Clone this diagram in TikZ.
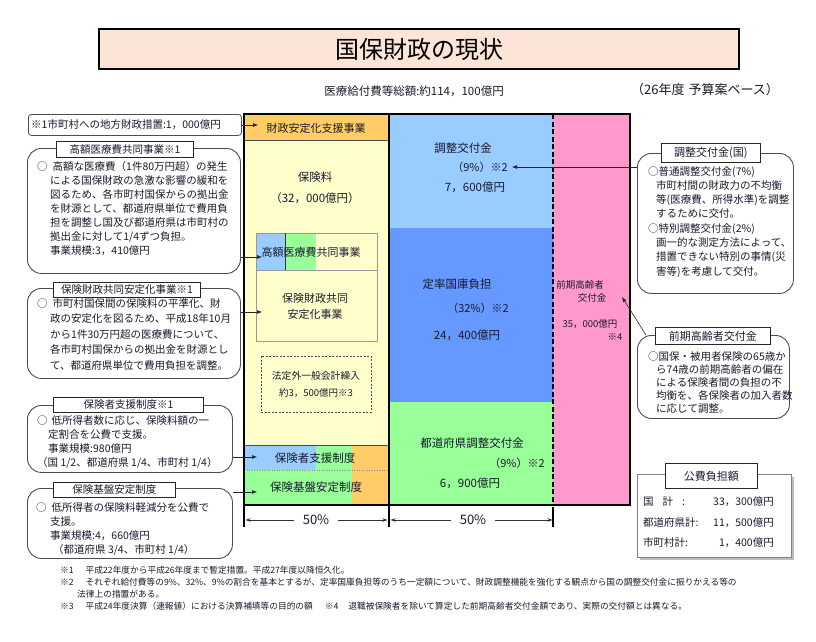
\documentclass[tikz,border=0pt]{standalone}
\usepackage{fontspec}
\setmainfont{Noto Sans CJK JP}
\usetikzlibrary{arrows.meta}
\definecolor{peach}{HTML}{FCE4D6}
\definecolor{corange}{HTML}{FFCC66}
\definecolor{ccream}{HTML}{FFFFCC}
\definecolor{clblue}{HTML}{99CCFF}
\definecolor{cblue}{HTML}{6699FF}
\definecolor{cgreen}{HTML}{99FF99}
\definecolor{cpink}{HTML}{FF99CC}
\definecolor{txt}{HTML}{1A1A2E}
\definecolor{frame}{HTML}{4D4D4D}
\newcommand{\fsz}[2]{\fontsize{#1}{#2}\selectfont}
\begin{document}
\begin{tikzpicture}[x=1pt,y=-1pt,
  lbl/.style={text=txt, inner sep=0pt, font=\fsz{11}{13}},
  para/.style={text=txt, inner sep=0pt, anchor=north west, align=left},
  roundbox/.style={draw=frame, line width=0.9pt, rounded corners=14pt, fill=white, anchor=north west, inner sep=0pt},
  hdr/.style={draw=black!85, line width=0.9pt, fill=white, inner sep=0pt, anchor=north west, text=txt, font=\fsz{10.5}{13}},
  arr/.style={-{Latex[length=5pt,width=4pt]}, line width=0.6pt, draw=black!85},
  dimarr/.style={-{Stealth[length=5pt,width=3.5pt]}, line width=0.7pt, draw=black!80},
]
\useasboundingbox (0,0) rectangle (816,642);
\fill[white] (0,0) rectangle (816,642);

% ---------- title ----------
\node[draw=black, line width=2.2pt, fill=peach, minimum width=640pt, minimum height=40pt,
      anchor=north west, inner sep=0pt, font=\fsz{24}{26}, text=black] (title) at (98,28) {国保財政の現状};
\node[lbl, font=\fsz{11.5}{13}] (total) at (414,91) {医療給付費等総額:約114，100億円};
\node[lbl, font=\fsz{13}{15}] (base) at (705,90) {（26年度\hspace{4pt}予算案ベース）};

% ---------- chart: left column ----------
\fill[corange] (244,114) rectangle (389,140);
\fill[ccream] (244,140) rectangle (389,445);
\fill[clblue] (256,233) rectangle (285,270);
\fill[cgreen] (285,233) rectangle (316,270);
\draw[black!40, line width=0.8pt] (256,233) rectangle (377,341);
\draw[black!40, line width=0.8pt] (256,270) -- (377,270);
\draw[black!80, line width=0.8pt] (285,233) -- (285,270);
\draw[black!70, line width=0.8pt, dash pattern=on 2pt off 1.5pt] (261,356) rectangle (371,412);
\fill[clblue] (244,445) rectangle (316,470);
\fill[cgreen] (316,445) rectangle (352,470);
\fill[cgreen] (244,470) rectangle (352,504);
\fill[corange] (352,445) rectangle (389,504);
\draw[black!70, line width=0.6pt] (244,140) -- (389,140);
\draw[black!70, line width=0.6pt] (244,445) -- (389,445);
\draw[black!45, line width=0.5pt, dotted] (244,470) -- (389,470);

% ---------- chart: right part ----------
\fill[clblue] (389,114) rectangle (553,228);
\fill[cblue] (389,228) rectangle (553,402);
\fill[cgreen] (389,402) rectangle (553,505);
\fill[cpink] (553,114) rectangle (630,505);
\draw[line width=1.2pt, dash pattern=on 5pt off 2.5pt] (553,114) -- (553,505);

% ---------- chart frame ----------
\draw[line width=2.4pt] (244,114) rectangle (630,505);
\draw[line width=2.4pt] (389,114) -- (389,527);
\draw[line width=2.4pt] (244,505) -- (244,527);
\draw[line width=1.2pt] (553,507) -- (553,527);

% ---------- chart texts ----------
\node[lbl] (zai) at (316,128) {財政安定化支援事業};
\node[lbl, font=\fsz{11.5}{13}] (hoken) at (315,177) {保険料};
\node[lbl, font=\fsz{11.5}{13}] (hokenv) at (315,198) {（32，000億円）};
\node[lbl] (kogaku) at (311,252) {高額医療費共同事業};
\node[lbl, align=center, font=\fsz{11}{16}] (kyodo) at (315,306) {保険財政共同\\安定化事業};
\node[lbl, font=\fsz{9.8}{12}] (hotei) at (316,376) {法定外一般会計繰入};
\node[lbl, font=\fsz{9.5}{12}] (hoteiv) at (316,393) {約3，500億円※3};
\node[lbl, font=\fsz{11.5}{13}] (shien) at (315,458) {保険者支援制度};
\node[lbl, font=\fsz{11.5}{13}] (kiban) at (316,487) {保険基盤安定制度};

\node[lbl, font=\fsz{11.5}{13}] (cho) at (463,148) {調整交付金};
\node[lbl] (chop) at (480,167) {（9\%）※2};
\node[lbl, font=\fsz{11.5}{13}] (chov) at (475,187) {7，600億円};
\node[lbl, font=\fsz{11.5}{13}] (teir) at (457,284) {定率国庫負担};
\node[lbl] (teirp) at (478,308) {（32\%）※2};
\node[lbl, font=\fsz{11.5}{13}] (teirv) at (467,335) {24，400億円};
\node[lbl, font=\fsz{11.5}{13}] (todo) at (472,443) {都道府県調整交付金};
\node[lbl] (todop) at (517,463) {（9\%）※2};
\node[lbl, font=\fsz{11.5}{13}] (todov) at (470,483) {6，900億円};
\node[lbl, font=\fsz{9.5}{12}] (zenki1) at (580,285) {前期高齢者};
\node[lbl, font=\fsz{9.5}{12}] (zenki2) at (592,298) {交付金};
\node[lbl, font=\fsz{9.5}{12}] (zenkiv) at (590,324) {35，000億円};
\node[lbl, font=\fsz{9.5}{12}] (zenkin) at (615,337) {※4};

% ---------- 50% dimensions ----------
\node[lbl, font=\fsz{13}{15}, inner xsep=9pt] (pa) at (316,520) {50\%};
\node[lbl, font=\fsz{13}{15}, inner xsep=9pt] (pb) at (473,520) {50\%};
\coordinate (pa1) at (245.5,520); \coordinate (pa2) at (387.5,520);
\coordinate (pb1) at (390.5,520); \coordinate (pb2) at (552.5,520);
\draw[dimarr] (pa.west) -- (pa1);
\draw[dimarr] (pa.east) -- (pa2);
\draw[dimarr] (pb.west) -- (pb1);
\draw[dimarr] (pb.east) -- (pb2);

% ---------- left notes ----------
\node[draw=frame, line width=0.8pt, rounded corners=3pt, fill=white, anchor=north west,
      minimum width=213pt, minimum height=21pt, inner sep=0pt] (n1) at (28,114) {};
\node[para, anchor=west, font=\fsz{10.5}{13}] (n1t) at (31,125) {※1市町村への地方財政措置:1，000億円};

\node[roundbox, minimum width=213pt, minimum height=125pt] (b1) at (27,148) {};
\node[hdr, minimum width=137pt, minimum height=16pt] (h1) at (56,141) {高額医療費共同事業※1};
\node[para, font=\fsz{10.5}{14}] (b1t) at (37,161) {○\hspace{5pt}高額な医療費（1件80万円超）の発生\\
\hspace*{13pt}による国保財政の急激な影響の緩和を\\
\hspace*{13pt}図るため、各市町村国保からの拠出金\\
\hspace*{13pt}を財源として、都道府県単位で費用負\\
\hspace*{13pt}担を調整し国及び都道府県は市町村の\\
\hspace*{13pt}拠出金に対して1/4ずつ負担。\\
\hspace*{13pt}事業規模:3，410億円};

\node[roundbox, minimum width=213pt, minimum height=90pt] (b2) at (27,288) {};
\node[hdr, minimum width=147pt, minimum height=15pt] (h2) at (53,282) {保険財政共同安定化事業※1};
\node[para, font=\fsz{10.5}{15.5}] (b2t) at (37,298) {○\hspace{5pt}市町村国保間の保険料の平準化、財\\
\hspace*{13pt}政の安定化を図るため、平成18年10月\\
\hspace*{13pt}から1件30万円超の医療費について、\\
\hspace*{13pt}各市町村国保からの拠出金を財源とし\\
\hspace*{13pt}て、都道府県単位で費用負担を調整。};

\node[roundbox, minimum width=205pt, minimum height=67pt] (b3) at (27,405) {};
\node[hdr, minimum width=150pt, minimum height=15pt] (h3) at (53,397) {保険者支援制度※1};
\node[para, font=\fsz{10.5}{14}] (b3t) at (37,415) {○\hspace{4pt}低所得者数に応じ、保険料額の一\\
\hspace*{11pt}定割合を公費で支援。\\
\hspace*{11pt}事業規模:980億円\\
（国 1/2、都道府県 1/4、市町村 1/4）};

\node[roundbox, minimum width=205pt, minimum height=70pt] (b4) at (27,488) {};
\node[hdr, minimum width=122pt, minimum height=15pt] (h4) at (53,482) {保険基盤安定制度};
\node[para, font=\fsz{10.5}{14}] (b4t) at (36,502) {○\hspace{5pt}低所得者の保険料軽減分を公費で\\
\hspace*{14pt}支援。\\
\hspace*{14pt}事業規模:4，660億円\\
\hspace*{17pt}（都道府県 3/4、市町村 1/4）};

% ---------- right notes ----------
\node[roundbox, minimum width=156pt, minimum height=140pt] (rb1) at (637,153) {};
\node[hdr, font=\fsz{11}{13}, minimum width=99pt, minimum height=19pt] (rh1) at (661,143) {調整交付金(国)};
\node[para, font=\fsz{10.5}{14.3}] (rb1t) at (648,166) {○普通調整交付金(7\%)\\
\hspace*{8pt}市町村間の財政力の不均衡\\
\hspace*{8pt}等(医療費、所得水準)を調整\\
\hspace*{8pt}するために交付。\\
○特別調整交付金(2\%)\\
\hspace*{8pt}画一的な測定方法によって、\\
\hspace*{8pt}措置できない特別の事情(災\\
\hspace*{8pt}害等)を考慮して交付。};

\node[roundbox, minimum width=152pt, minimum height=83pt] (rb2) at (637,335) {};
\node[hdr, font=\fsz{11}{13}, minimum width=115pt, minimum height=17pt] (rh2) at (655,327) {前期高齢者交付金};
\node[para, font=\fsz{10.5}{13}] (rb2t) at (648,351) {○国保・被用者保険の65歳か\\
\hspace*{8pt}ら74歳の前期高齢者の偏在\\
\hspace*{8pt}による保険者間の負担の不\\
\hspace*{8pt}均衡を、各保険者の加入者数\\
\hspace*{8pt}に応じて調整。};

% ---------- public burden box ----------
\fill[black!25] (640,477) rectangle (794,560);
\node[draw=black!50, line width=0.9pt, fill=white, minimum width=154pt, minimum height=83pt,
      anchor=north west, inner sep=0pt] (kb) at (637,474) {};
\node[hdr, font=\fsz{11}{13}, minimum width=92pt, minimum height=25pt] (kh) at (665,463) {公費負担額};
\node[para, anchor=base west, font=\fsz{10.5}{13}] (k1l) at (643,505) {国\hspace{9pt}計\hspace{9pt}:};
\node[para, anchor=base west, font=\fsz{10.5}{13}] (k2l) at (643,526) {都道府県計:};
\node[para, anchor=base west, font=\fsz{10.5}{13}] (k3l) at (643,546) {市町村計:};
\node[para, anchor=base east, font=\fsz{10.5}{13}] (k1v) at (774,505) {33，300億円};
\node[para, anchor=base east, font=\fsz{10.5}{13}] (k2v) at (774,526) {11，500億円};
\node[para, anchor=base east, font=\fsz{10.5}{13}] (k3v) at (774,546) {1，400億円};

% ---------- connectors ----------
\coordinate (a1) at (258,125);
\coordinate (a2) at (262,257);
\coordinate (a3) at (262,312);
\coordinate (a4) at (257,457);
\coordinate (a5) at (257,492);
\coordinate (a6) at (512,167);
\coordinate (a7) at (622,297);
\draw[arr] (n1.east |- a1) -- (a1);
\draw[arr] (b1.east |- a2) -- (a2);
\draw[arr] (b2.east |- a3) -- (a3);
\draw[arr] (b3.east |- a4) -- (a4);
\draw[arr] (b4.east |- a5) -- (a5);
\draw[arr] (rb1.west |- a6) -- (a6);
\draw[arr] ([xshift=9pt]rb2.north west) -- (a7);

% ---------- footnotes ----------
\node[para, anchor=base west, font=\fsz{8.7}{10}] (f1) at (60,573) {※1\hspace{12pt}平成22年度から平成26年度まで暫定措置。平成27年度以降恒久化。};
\node[para, anchor=base west, font=\fsz{8.7}{10}] (f2) at (60,585) {※2\hspace{12pt}それぞれ給付費等の9\%、32\%、9\%の割合を基本とするが、定率国庫負担等のうち一定額について、財政調整機能を強化する観点から国の調整交付金に振りかえる等の};
\node[para, anchor=base west, font=\fsz{8.7}{10}] (f3) at (77,597) {法律上の措置がある。};
\node[para, anchor=base west, font=\fsz{8.7}{10}] (f4) at (60,609) {※3\hspace{12pt}平成24年度決算（速報値）における決算補填等の目的の額\hspace{12pt}※4\hspace{10pt}退職被保険者を除いて算定した前期高齢者交付金額であり、実際の交付額とは異なる。};
\end{tikzpicture}
\end{document}
